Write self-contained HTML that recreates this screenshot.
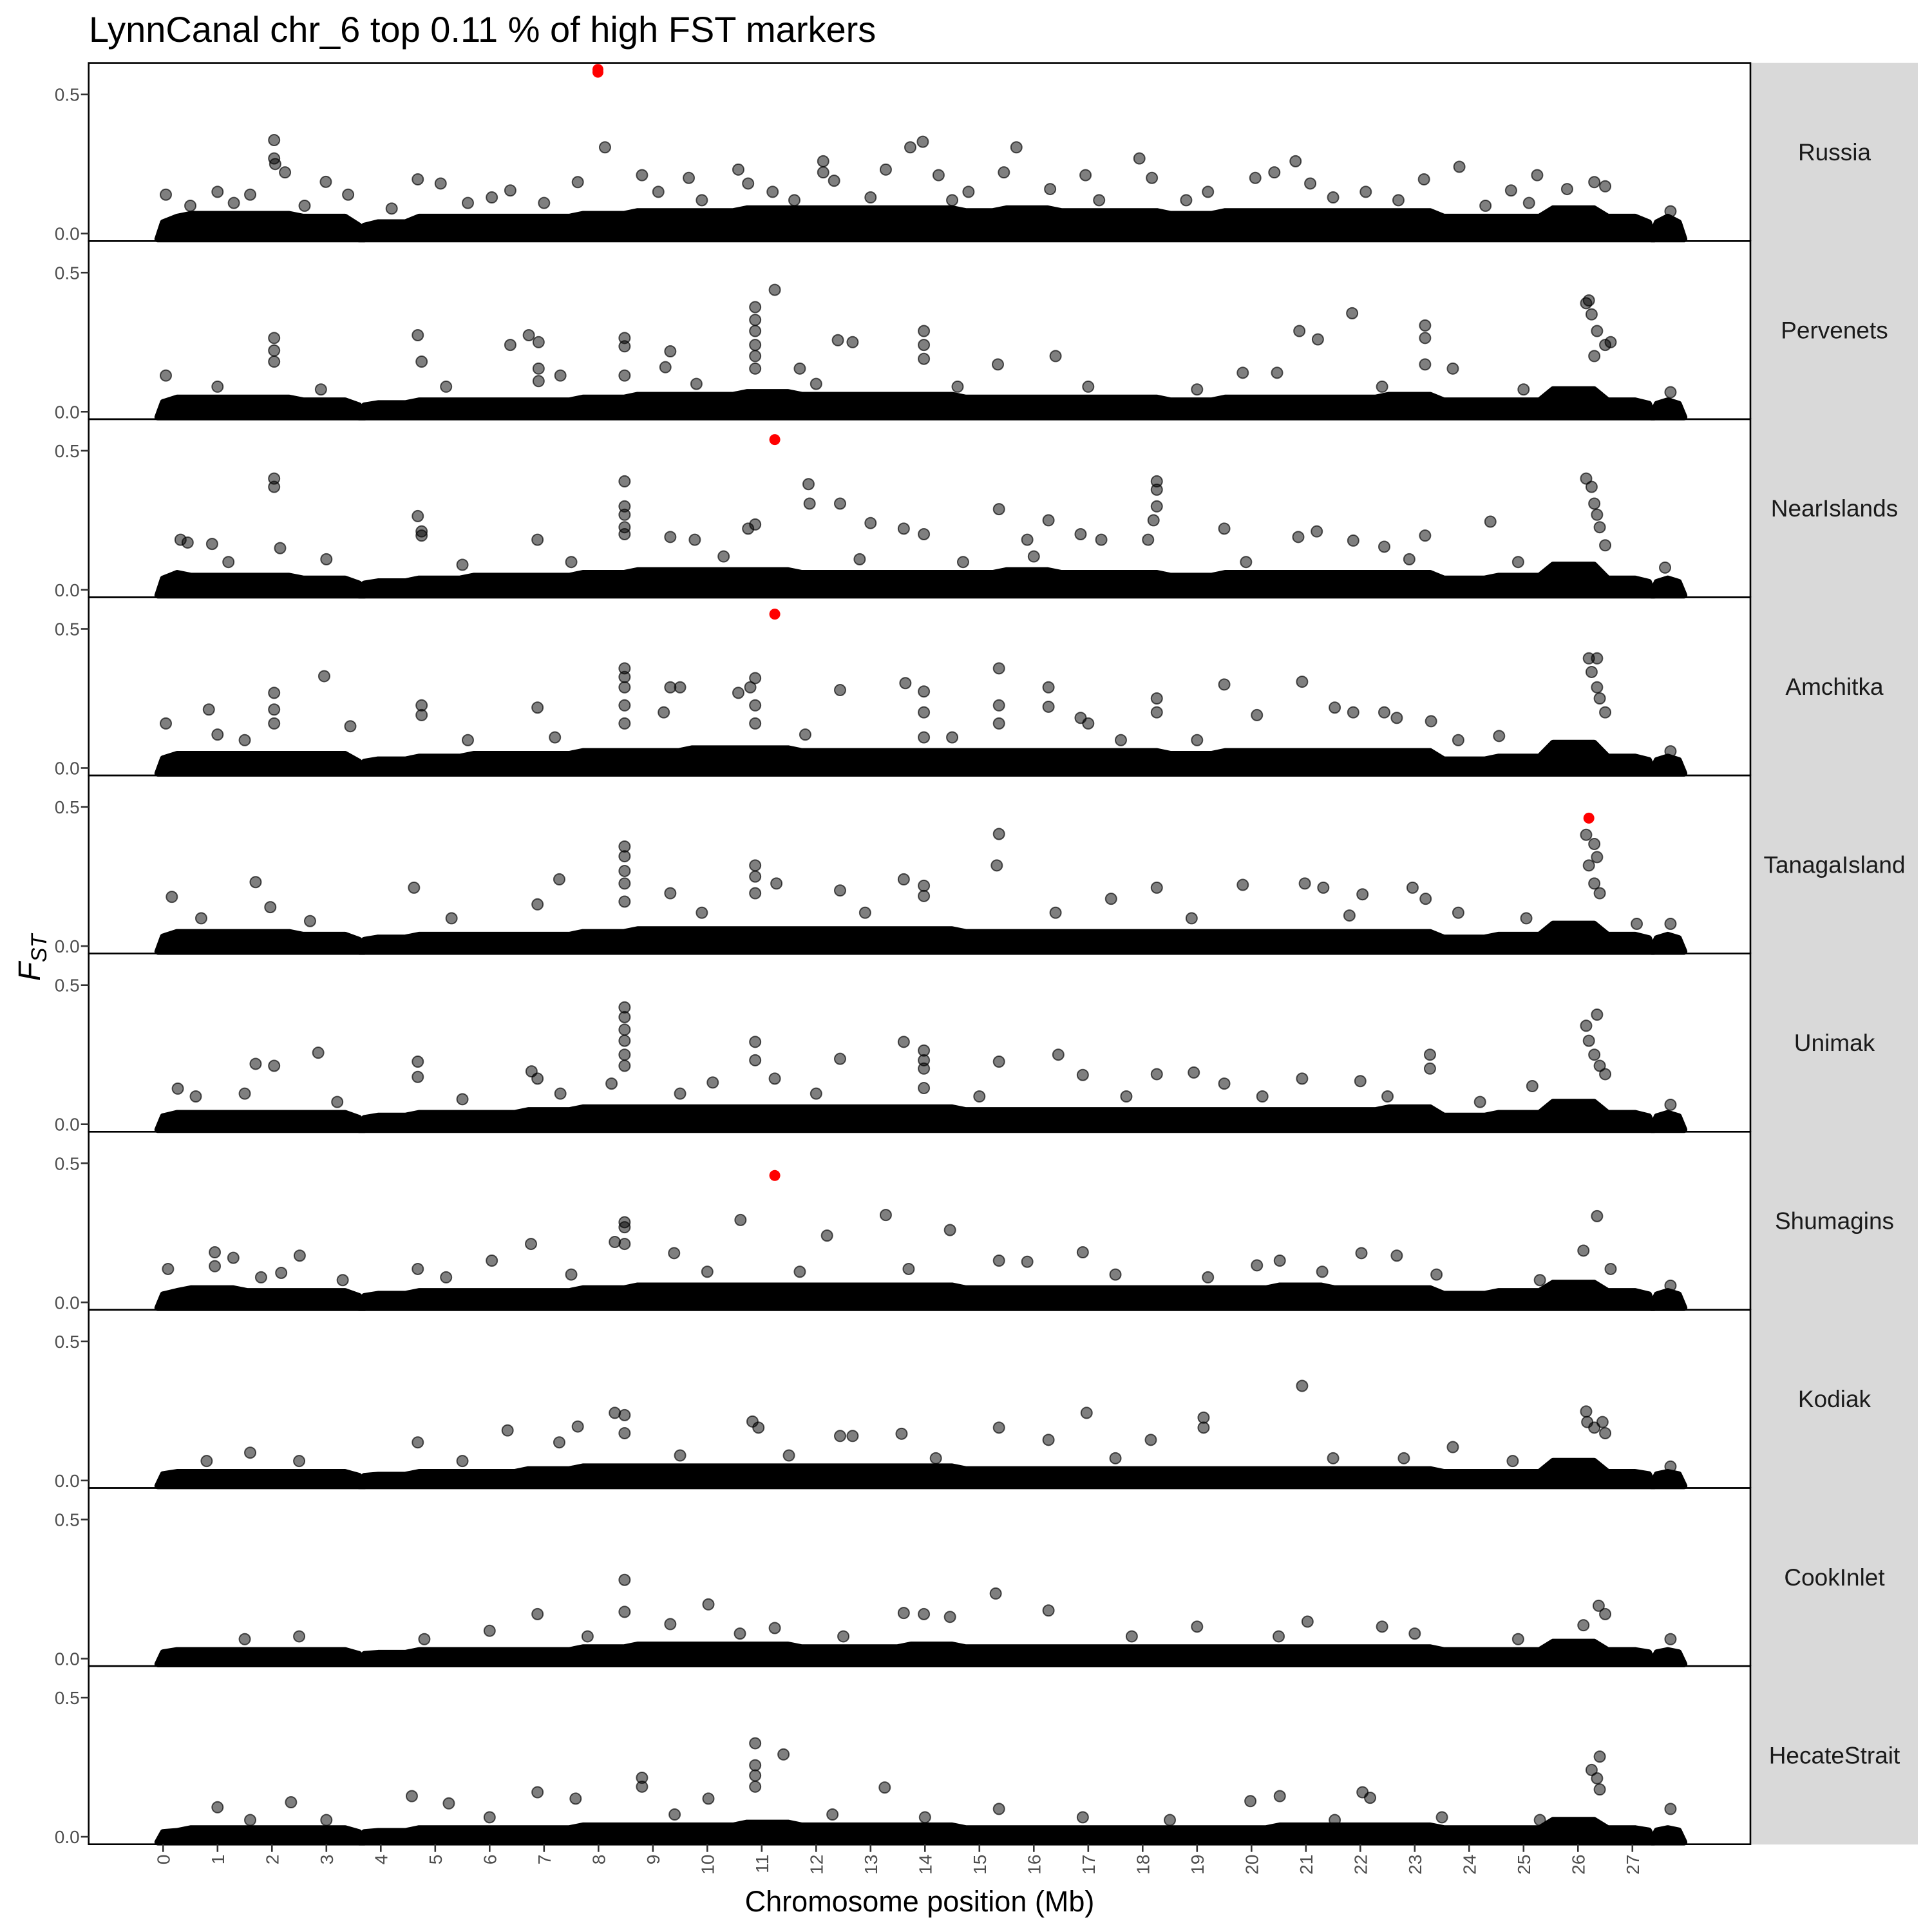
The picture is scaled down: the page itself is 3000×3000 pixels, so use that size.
<!DOCTYPE html>
<html><head><meta charset="utf-8"><style>
html,body{margin:0;padding:0;background:#fff;}
svg{display:block;font-family:"Liberation Sans",Arial,sans-serif;}
</style></head><body>
<svg id="chart" width="3000" height="3000" viewBox="0 0 3000 3000" xmlns="http://www.w3.org/2000/svg">
<rect width="3000" height="3000" fill="#fff"/>
<text x="138" y="65" font-size="56" fill="#000">LynnCanal chr_6 top 0.11 % of high FST markers</text>
<text x="1428" y="2968" font-size="45" text-anchor="middle" fill="#000">Chromosome position (Mb)</text>
<text transform="translate(62,1487) rotate(-90)" text-anchor="middle" font-size="48" fill="#000"><tspan font-style="italic">F</tspan><tspan font-size="34" dy="10" font-style="italic">ST</tspan></text>
<g id="panels"></g>
<g id="xaxis"></g>
</svg>
<script>
// ---- data ----
const populations = ["Russia","Pervenets","NearIslands","Amchitka","TanagaIsland","Unimak","Shumagins","Kodiak","CookInlet","HecateStrait"];
const xTicks = [0,1,2,3,4,5,6,7,8,9,10,11,12,13,14,15,16,17,18,19,20,21,22,23,24,25,26,27];
const yTicks = [0.0, 0.5];
const yTickLabels = ["0.0","0.5"];
// dense band: segments (Mb) and envelope top value per Mb bin 0..27
const bandSegments = [[0,3.6],[3.7,27.3],[27.45,27.85]];
const envRussia = [0.05,0.06,0.06,0.05,0.03,0.05,0.05,0.05,0.06,0.07,0.07,0.08,0.08,0.08,0.08,0.07,0.08,0.07,0.07,0.06,0.07,0.07,0.07,0.07,0.05,0.05,0.08,0.05];
const envPervenets = [0.04,0.04,0.04,0.03,0.02,0.03,0.03,0.03,0.04,0.05,0.05,0.06,0.05,0.05,0.05,0.04,0.04,0.04,0.04,0.03,0.04,0.04,0.04,0.05,0.03,0.03,0.07,0.03];
const envNear = [0.05,0.04,0.04,0.03,0.02,0.03,0.04,0.04,0.05,0.06,0.06,0.06,0.05,0.05,0.05,0.05,0.06,0.05,0.05,0.04,0.05,0.05,0.05,0.05,0.03,0.04,0.08,0.03];
const envAmchitka = [0.04,0.04,0.04,0.04,0.02,0.03,0.04,0.04,0.05,0.05,0.06,0.06,0.05,0.05,0.05,0.05,0.05,0.05,0.05,0.04,0.05,0.05,0.05,0.05,0.02,0.03,0.08,0.03];
const envTanaga = [0.04,0.04,0.04,0.03,0.02,0.03,0.03,0.03,0.04,0.05,0.05,0.05,0.05,0.05,0.05,0.04,0.04,0.04,0.04,0.04,0.04,0.04,0.04,0.04,0.02,0.03,0.07,0.03];
const envUnimak = [0.03,0.03,0.03,0.03,0.02,0.03,0.03,0.04,0.05,0.05,0.05,0.05,0.05,0.05,0.05,0.04,0.04,0.04,0.04,0.04,0.04,0.04,0.04,0.05,0.02,0.03,0.07,0.03];
const envShumagins = [0.03,0.04,0.03,0.03,0.02,0.03,0.03,0.03,0.04,0.05,0.05,0.05,0.05,0.05,0.05,0.04,0.04,0.04,0.04,0.04,0.04,0.05,0.04,0.04,0.02,0.03,0.06,0.03];
const envKodiak = [0.02,0.02,0.02,0.02,0.01,0.02,0.02,0.03,0.04,0.04,0.04,0.04,0.04,0.04,0.04,0.03,0.03,0.03,0.03,0.03,0.03,0.03,0.03,0.03,0.02,0.02,0.06,0.02];
const envCook = [0.02,0.02,0.02,0.02,0.01,0.02,0.02,0.02,0.03,0.04,0.04,0.04,0.03,0.03,0.04,0.03,0.03,0.03,0.03,0.03,0.03,0.03,0.03,0.03,0.02,0.02,0.05,0.02];
const envHecate = [0.01,0.02,0.02,0.02,0.01,0.02,0.02,0.02,0.03,0.03,0.03,0.04,0.03,0.03,0.03,0.02,0.02,0.02,0.02,0.02,0.02,0.03,0.03,0.03,0.02,0.02,0.05,0.02];
// outlier points: [Mb, FST]
const ptsRussia = [[2.04,0.336],[2.04,0.27],[2.06,0.25],[2.24,0.22],[8.12,0.31],[2.99,0.186],[0.05,0.14],[4.68,0.195],[5.1,0.18],[8.8,0.21],[9.66,0.2],[10.57,0.23],[12.13,0.26],[12.13,0.22],[13.28,0.23],[13.73,0.31],[13.96,0.33],[14.25,0.21],[15.68,0.31],[15.45,0.22],[16.95,0.21],[17.94,0.27],[18.17,0.2],[20.81,0.26],[20.42,0.22],[23.17,0.195],[23.82,0.24],[25.25,0.21],[26.3,0.185],[24.77,0.155],[20.07,0.2],[21.08,0.18],[12.33,0.19],[10.75,0.18],[6.38,0.155],[7.62,0.185],[6.04,0.13],[1.0,0.15],[1.6,0.14],[3.4,0.14],[9.1,0.15],[11.2,0.15],[14.8,0.15],[16.3,0.16],[19.2,0.15],[22.1,0.15],[25.8,0.16],[26.5,0.17],[27.7,0.08],[0.5,0.1],[1.3,0.11],[2.6,0.1],[4.2,0.09],[5.6,0.11],[7.0,0.11],[9.9,0.12],[11.6,0.12],[13.0,0.13],[14.5,0.12],[17.2,0.12],[18.8,0.12],[21.5,0.13],[22.7,0.12],[24.3,0.1],[25.1,0.11]];
const ptsPervenets = [[11.24,0.438],[26.2,0.40],[26.15,0.39],[26.25,0.35],[26.35,0.29],[26.5,0.24],[26.3,0.2],[26.6,0.25],[21.85,0.354],[10.88,0.376],[10.88,0.33],[10.88,0.29],[10.88,0.24],[10.88,0.2],[10.88,0.155],[2.04,0.265],[2.04,0.22],[2.04,0.18],[23.19,0.31],[23.19,0.265],[23.19,0.17],[8.48,0.265],[8.48,0.235],[8.48,0.13],[4.68,0.275],[4.75,0.18],[6.72,0.275],[6.9,0.25],[6.9,0.155],[6.9,0.11],[6.38,0.24],[12.4,0.257],[12.67,0.25],[13.98,0.29],[13.98,0.24],[13.98,0.19],[20.88,0.29],[21.22,0.26],[9.32,0.217],[9.23,0.16],[15.34,0.17],[16.4,0.2],[11.7,0.155],[23.7,0.155],[19.84,0.14],[20.47,0.14],[0.05,0.13],[7.3,0.13],[27.7,0.07],[1.0,0.09],[2.9,0.08],[5.2,0.09],[9.8,0.1],[12.0,0.1],[14.6,0.09],[17.0,0.09],[19.0,0.08],[22.4,0.09],[25.0,0.08]];
const ptsNear = [[2.04,0.4],[2.04,0.37],[8.48,0.39],[8.48,0.3],[8.48,0.27],[8.48,0.225],[8.48,0.2],[18.26,0.39],[18.26,0.36],[18.26,0.3],[18.2,0.25],[18.1,0.18],[26.15,0.4],[26.25,0.37],[26.3,0.31],[26.35,0.27],[26.4,0.225],[26.5,0.16],[11.86,0.38],[11.88,0.31],[12.44,0.31],[15.36,0.29],[13.0,0.24],[13.61,0.22],[13.98,0.2],[16.27,0.25],[16.86,0.2],[4.68,0.265],[4.75,0.21],[4.75,0.195],[10.88,0.235],[10.75,0.22],[24.39,0.245],[19.5,0.22],[21.2,0.21],[20.86,0.19],[23.19,0.195],[0.32,0.18],[0.9,0.165],[0.45,0.17],[6.88,0.18],[9.32,0.19],[9.77,0.18],[15.88,0.18],[17.24,0.18],[21.87,0.177],[22.44,0.155],[2.15,0.15],[3.0,0.11],[27.6,0.08],[1.2,0.1],[5.5,0.09],[7.5,0.1],[10.3,0.12],[12.8,0.11],[14.7,0.1],[16.0,0.12],[19.9,0.1],[22.9,0.11],[24.9,0.1]];
const ptsAmchitka = [[26.2,0.394],[26.35,0.394],[26.25,0.345],[26.35,0.29],[26.4,0.25],[26.5,0.2],[8.48,0.358],[8.48,0.327],[8.48,0.29],[8.48,0.225],[8.48,0.16],[15.36,0.358],[15.36,0.225],[15.36,0.16],[2.96,0.33],[10.88,0.323],[10.79,0.29],[10.88,0.225],[10.88,0.16],[20.93,0.31],[13.64,0.305],[19.5,0.3],[9.32,0.29],[9.5,0.29],[16.27,0.29],[16.27,0.22],[12.44,0.28],[10.57,0.27],[2.04,0.27],[2.04,0.21],[2.04,0.16],[13.98,0.275],[13.98,0.2],[13.98,0.11],[18.26,0.25],[18.26,0.2],[4.75,0.225],[4.75,0.19],[6.88,0.217],[9.2,0.2],[21.53,0.217],[21.87,0.2],[22.44,0.2],[22.67,0.18],[0.84,0.21],[0.05,0.16],[16.86,0.18],[17.0,0.16],[20.1,0.19],[23.3,0.168],[24.55,0.115],[3.44,0.15],[27.7,0.06],[1.0,0.12],[1.5,0.1],[5.6,0.1],[7.2,0.11],[11.8,0.12],[14.5,0.11],[17.6,0.1],[19.0,0.1],[23.8,0.1]];
const ptsTanaga = [[15.36,0.403],[15.32,0.29],[26.15,0.4],[26.3,0.367],[26.35,0.32],[26.2,0.29],[26.3,0.225],[26.4,0.19],[8.48,0.358],[8.48,0.323],[8.48,0.27],[8.48,0.225],[8.48,0.16],[10.88,0.29],[10.88,0.25],[10.88,0.19],[13.61,0.24],[13.98,0.217],[13.98,0.18],[7.28,0.24],[1.7,0.23],[11.27,0.225],[20.98,0.225],[21.32,0.21],[19.84,0.22],[18.26,0.21],[4.61,0.21],[22.96,0.21],[23.2,0.17],[12.44,0.2],[9.32,0.19],[0.16,0.177],[17.42,0.17],[22.04,0.186],[23.8,0.12],[27.08,0.08],[6.88,0.15],[1.97,0.14],[25.05,0.1],[27.7,0.08],[0.7,0.1],[2.7,0.09],[5.3,0.1],[9.9,0.12],[12.9,0.12],[16.4,0.12],[18.9,0.1],[21.8,0.11]];
const ptsUnimak = [[8.48,0.42],[8.48,0.385],[8.48,0.34],[8.48,0.3],[8.48,0.25],[8.48,0.21],[26.35,0.394],[26.15,0.354],[26.2,0.3],[26.3,0.25],[26.4,0.21],[26.5,0.18],[13.61,0.296],[10.88,0.296],[10.88,0.23],[13.98,0.265],[13.98,0.23],[13.98,0.2],[13.98,0.13],[2.85,0.257],[23.28,0.25],[23.28,0.2],[12.44,0.235],[16.45,0.25],[1.7,0.217],[2.04,0.21],[4.68,0.225],[4.68,0.17],[15.36,0.225],[18.26,0.18],[18.94,0.186],[19.5,0.146],[20.93,0.164],[22.0,0.155],[25.16,0.137],[6.88,0.164],[6.77,0.19],[11.24,0.164],[0.27,0.128],[8.24,0.146],[10.1,0.15],[16.9,0.177],[27.7,0.07],[0.6,0.1],[1.5,0.11],[3.2,0.08],[5.5,0.09],[7.3,0.11],[9.5,0.11],[12.0,0.11],[15.0,0.1],[17.7,0.1],[20.2,0.1],[22.5,0.1],[24.2,0.08]];
const ptsShumagins = [[13.28,0.314],[26.35,0.31],[10.61,0.296],[8.48,0.288],[8.48,0.27],[8.48,0.21],[14.46,0.26],[12.2,0.24],[8.3,0.217],[6.76,0.21],[26.1,0.186],[22.02,0.177],[16.9,0.18],[0.95,0.18],[1.29,0.16],[0.95,0.13],[2.51,0.168],[22.67,0.168],[9.39,0.177],[6.04,0.15],[15.88,0.146],[15.36,0.15],[20.1,0.133],[20.52,0.15],[0.09,0.12],[2.17,0.106],[4.68,0.12],[26.6,0.12],[27.7,0.06],[1.8,0.09],[3.3,0.08],[5.2,0.09],[7.5,0.1],[10.0,0.11],[11.7,0.11],[13.7,0.12],[17.5,0.1],[19.2,0.09],[21.3,0.11],[23.4,0.1],[25.3,0.08]];
const ptsKodiak = [[20.93,0.34],[19.12,0.226],[19.12,0.19],[26.15,0.248],[26.17,0.21],[26.3,0.19],[26.45,0.21],[26.5,0.17],[8.3,0.243],[8.48,0.235],[8.48,0.17],[10.83,0.212],[10.94,0.19],[16.97,0.243],[13.57,0.168],[12.44,0.16],[12.67,0.16],[15.36,0.19],[6.33,0.18],[7.28,0.137],[7.62,0.194],[4.68,0.137],[18.15,0.146],[16.27,0.146],[23.7,0.12],[1.6,0.1],[27.7,0.05],[0.8,0.07],[2.5,0.07],[5.5,0.07],[9.5,0.09],[11.5,0.09],[14.2,0.08],[17.5,0.08],[21.5,0.08],[22.8,0.08],[24.8,0.07]];
const ptsCook = [[8.48,0.283],[8.48,0.168],[15.3,0.234],[10.02,0.195],[16.27,0.173],[13.61,0.164],[13.98,0.16],[14.46,0.15],[26.38,0.19],[26.5,0.16],[6.88,0.16],[9.32,0.124],[11.24,0.11],[21.03,0.133],[22.4,0.115],[19.0,0.115],[6.0,0.1],[26.1,0.12],[27.7,0.07],[1.5,0.07],[2.5,0.08],[4.8,0.07],[7.8,0.08],[10.6,0.09],[12.5,0.08],[17.8,0.08],[20.5,0.08],[23.0,0.09],[24.9,0.07]];
const ptsHecate = [[10.88,0.336],[10.88,0.257],[10.88,0.22],[10.88,0.18],[11.4,0.296],[26.4,0.288],[26.25,0.24],[26.35,0.21],[26.4,0.17],[8.8,0.212],[8.8,0.18],[13.26,0.177],[10.02,0.137],[22.04,0.16],[22.18,0.14],[20.52,0.146],[19.98,0.128],[4.57,0.146],[6.88,0.16],[7.58,0.137],[1.0,0.106],[2.35,0.124],[5.25,0.12],[21.53,0.06],[15.36,0.1],[27.7,0.1],[1.6,0.06],[3.0,0.06],[6.0,0.07],[9.4,0.08],[12.3,0.08],[14.0,0.07],[16.9,0.07],[18.5,0.06],[23.5,0.07],[25.3,0.06]];
// highlighted (red) points: [panelIndex, Mb, FST]
const redPoints = [[0,7.99,0.58],[0,7.99,0.59],[2,11.24,0.54],[3,11.24,0.553],[4,26.2,0.46],[6,11.24,0.456]];

const envelopes = [envRussia,envPervenets,envNear,envAmchitka,envTanaga,envUnimak,envShumagins,envKodiak,envCook,envHecate];
const points = [ptsRussia,ptsPervenets,ptsNear,ptsAmchitka,ptsTanaga,ptsUnimak,ptsShumagins,ptsKodiak,ptsCook,ptsHecate];

// ---- layout ----
const NS = "http://www.w3.org/2000/svg";
const L = 137.7, R = 2718, TOP = 97.7, PH = 276.6, STRIPW = 259, PR = 8.5;
const xScale = mb => 253.3 + 84.5 * mb;
const yScale = (i, v) => TOP + i * PH + PH - 11.6 - v * 432;

function mk(tag, attrs, parent) {
  const e = document.createElementNS(NS, tag);
  for (const k in attrs) e.setAttribute(k, attrs[k]);
  parent.appendChild(e);
  return e;
}
const gP = document.getElementById("panels");
const gX = document.getElementById("xaxis");

populations.forEach((pop, i) => {
  const g = mk("g", {}, gP);
  
  
  const top = TOP + i * PH;
  const st = mk("rect", {x: R + 1, y: top, width: STRIPW, height: PH + 0.5, fill: "#d9d9d9"}, g);
  
  
  const stt = mk("text", {x: R + 1 + STRIPW / 2, y: top + PH / 2 + 13, "font-size": 37, "text-anchor": "middle", fill: "#1a1a1a"}, g);
  stt.textContent = pop;
  
  
  // band
  const env = envelopes[i];
  const y0 = yScale(i, 0) + PR;
  bandSegments.forEach(seg => {
    let d = "M" + (xScale(seg[0]) - PR) + "," + y0;
    const steps = Math.max(2, Math.round((seg[1] - seg[0]) * 4));
    for (let s = 0; s <= steps; s++) {
      const mb = seg[0] + (seg[1] - seg[0]) * s / steps;
      const k = Math.min(env.length - 1, Math.max(0, Math.round(mb)));
      let v = env[k];
      if (s === 0 || s === steps) v = v * 0.6;
      d += " L" + xScale(mb) + "," + (yScale(i, v) - PR * 0.5);
    }
    d += " L" + (xScale(seg[1]) + PR) + "," + y0 + " Z";
    const b = mk("path", {d: d, fill: "#000", "stroke-linejoin": "round", stroke: "#000", "stroke-width": 10}, g);
    
    
  });
  points[i].forEach(p => {
    const c = mk("circle", {cx: xScale(p[0]), cy: yScale(i, p[1]), r: PR, fill: "rgba(0,0,0,0.5)", stroke: "rgba(0,0,0,0.65)", "stroke-width": 2}, g);
    
    
  });
  const br = mk("rect", {x: L, y: top, width: R - L, height: PH, fill: "none", stroke: "#000", "stroke-width": 2.6}, g);
  
  
  yTicks.forEach((t, j) => {
    const yy = yScale(i, t);
    const tk = mk("line", {x1: L - 12, x2: L, y1: yy, y2: yy, stroke: "#333", "stroke-width": 2.6}, g);
    
    
    const tl = mk("text", {x: L - 14, y: yy + 10, "font-size": 28, "text-anchor": "end", fill: "#4d4d4d"}, g);
    tl.textContent = yTickLabels[j];
    
    
  });
});

redPoints.forEach(p => {
  const c = mk("circle", {cx: xScale(p[1]), cy: yScale(p[0], p[2]), r: PR, fill: "#ff0000"}, gP);
  
  
});

const bottom = TOP + populations.length * PH;
xTicks.forEach(t => {
  const xx = xScale(t);
  const tk = mk("line", {x1: xx, x2: xx, y1: bottom, y2: bottom + 12, stroke: "#333", "stroke-width": 2.6}, gX);
  
  
  const tl = mk("text", {transform: "translate(" + (xx + 10) + "," + (bottom + 16) + ") rotate(-90)", "font-size": 28, "text-anchor": "end", fill: "#4d4d4d"}, gX);
  tl.textContent = String(t);
  
  
});
</script>
</body></html>
